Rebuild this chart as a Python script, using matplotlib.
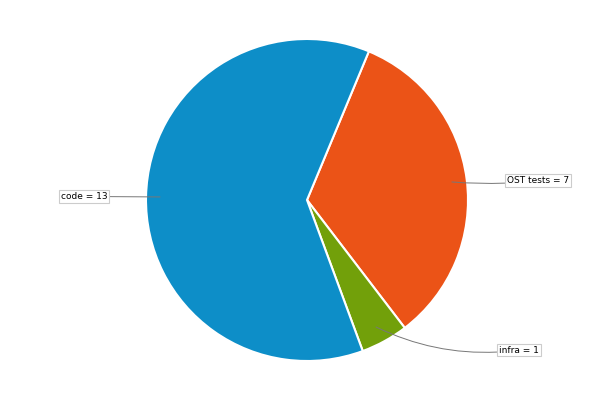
import matplotlib
matplotlib.use("Agg")
import matplotlib.pyplot as plt

labels = ["OST tests", "infra", "code"]
counts = [7, 1, 13]
colors = ["#eb5317", "#72a00a", "#0d8ec8"]

# where the leader lines hit the slices and where the label boxes sit
label_xy = [(0.90, 0.112), (0.429, -0.789), (-0.913, 0.019)]
text_xy = [(1.435, 0.121), (1.317, -0.932), (-1.385, 0.022)]
curves = ["arc3,rad=-0.05", "arc3,rad=-0.15", "arc3,rad=0"]

fig = plt.figure(figsize=(6.09, 4.2), dpi=100)
ax = fig.add_axes([0, 0, 1, 1])
ax.pie(counts, colors=colors, startangle=67.4, counterclock=False,
       wedgeprops=dict(edgecolor="white", linewidth=1.5))

for name, n, xy, txy, cs in zip(labels, counts, label_xy, text_xy, curves):
    ax.annotate(f"{name} = {n}", xy=xy, xytext=txy, ha="center", va="center",
                fontsize=6.5, color="black",
                bbox=dict(boxstyle="square,pad=0.2", fc="white", ec="#cccccc", lw=0.8),
                arrowprops=dict(arrowstyle="-", color="#777777", lw=0.7,
                                connectionstyle=cs, shrinkA=0, shrinkB=0))

ax.set_xlim(-307 / 161, 302 / 161)
ax.set_ylim(-220 / 161, 200 / 161)
ax.set_aspect("auto")
ax.axis("off")
fig.savefig("out.png", dpi=100)
